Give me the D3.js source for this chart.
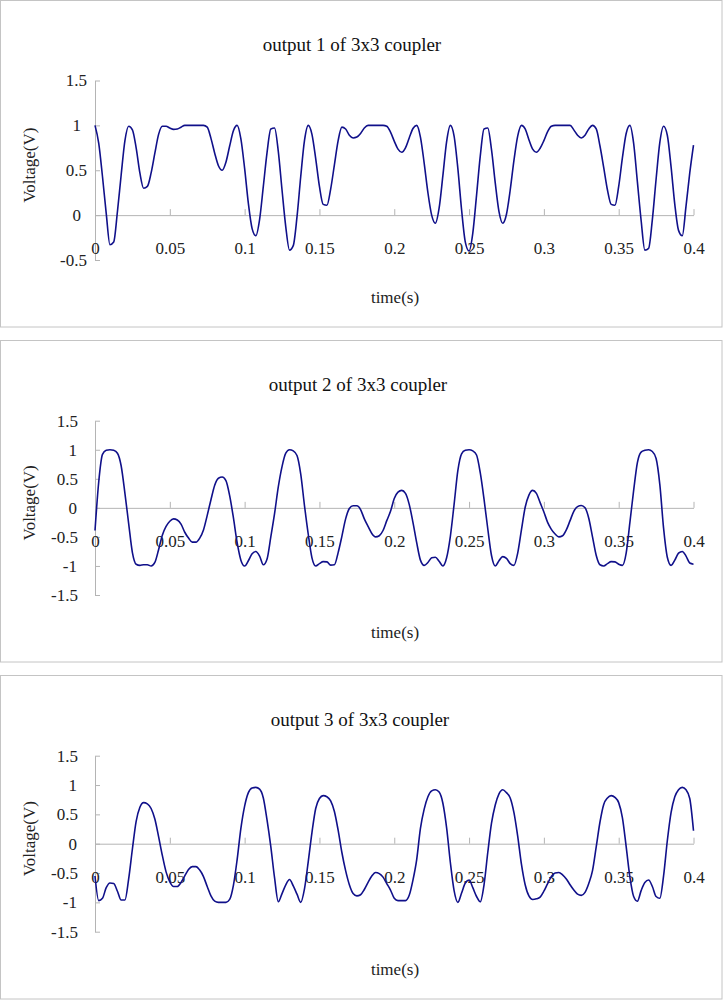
<!DOCTYPE html>
<html>
<head>
<meta charset="utf-8">
<script src="https://cdn.jsdelivr.net/npm/d3@7"></script>
<style>
    body { margin: 0; background: #fff; }
    svg { display: block; }
</style>
</head>
<body>
<svg id="chart" width="723" height="1000"></svg>
<script>
// spacing between two samples of a trace, in seconds
const SAMPLE_STEP = 0.0025;
const FONT = "'Liberation Serif', 'Times New Roman', serif";

let titles = ["output 1 of 3x3 coupler", "output 2 of 3x3 coupler", "output 3 of 3x3 coupler"];
let xTicks = [0, 0.05, 0.1, 0.15, 0.2, 0.25, 0.3, 0.35, 0.4];
let xTickLabels = ["0", "0.05", "0.1", "0.15", "0.2", "0.25", "0.3", "0.35", "0.4"];
let yTicksOutput1 = [1.5, 1, 0.5, 0, -0.5];
let yTicksOutput23 = [1.5, 1, 0.5, 0, -0.5, -1, -1.5];

// voltages, one value every SAMPLE_STEP from 0 to 0.4 s
let output1 = [
    1.00, 0.80, 0.43, 0.02, -0.33, -0.30, 0.04, 0.45, 0.83, 0.99,
    0.95, 0.75, 0.47, 0.30, 0.32, 0.47, 0.69, 0.90, 0.99, 0.99,
    0.97, 0.955, 0.96, 0.98, 1.00, 1.00, 1.00, 1.00, 1.00, 1.00,
    0.98, 0.855, 0.69, 0.55, 0.50, 0.59, 0.77, 0.94, 1.00, 0.85,
    0.52, 0.13, -0.15, -0.23, -0.05, 0.32, 0.70, 0.96, 0.97, 0.71,
    0.28, -0.13, -0.39, -0.34, -0.02, 0.43, 0.83, 1.00, 0.90, 0.63,
    0.32, 0.12, 0.11, 0.29, 0.56, 0.83, 0.98, 0.96, 0.89, 0.86,
    0.87, 0.91, 0.97, 1.00, 1.00, 1.00, 1.00, 1.00, 0.99, 0.925,
    0.825, 0.735, 0.70, 0.75, 0.86, 0.965, 1.00, 0.87, 0.58, 0.25,
    0.00, -0.09, 0.08, 0.44, 0.82, 1.00, 0.88, 0.52, 0.06, -0.30,
    -0.40, -0.20, 0.22, 0.66, 0.96, 0.97, 0.73, 0.36, 0.04, -0.09,
    0.01, 0.28, 0.61, 0.88, 1.00, 0.96, 0.84, 0.735, 0.70, 0.745,
    0.83, 0.93, 0.99, 1.00, 1.00, 1.00, 1.00, 1.00, 0.95, 0.89,
    0.86, 0.89, 0.96, 1.00, 0.96, 0.77, 0.53, 0.28, 0.12, 0.11,
    0.32, 0.64, 0.91, 1.00, 0.80, 0.37, -0.06, -0.39, -0.37, -0.05,
    0.40, 0.81, 0.99, 0.89, 0.54, 0.12, -0.17, -0.23, 0.10, 0.47,
    0.78
];
let output2 = [
    -0.39, 0.45, 0.92, 0.99, 1.00, 0.99, 0.94, 0.72, 0.25, -0.27,
    -0.77, -0.97, -0.99, -0.98, -0.98, -1.00, -0.94, -0.72, -0.47, -0.32,
    -0.23, -0.19, -0.21, -0.28, -0.42, -0.52, -0.59, -0.59, -0.52, -0.38,
    -0.13, 0.14, 0.39, 0.51, 0.53, 0.47, 0.21, -0.17, -0.60, -0.90,
    -1.00, -0.91, -0.79, -0.75, -0.83, -0.98, -0.88, -0.50, -0.10, 0.36,
    0.71, 0.94, 1.00, 0.98, 0.90, 0.58, 0.04, -0.45, -0.86, -1.00,
    -0.96, -0.925, -0.93, -0.985, -0.98, -0.77, -0.49, -0.19, -0.01, 0.035,
    0.035, -0.03, -0.19, -0.32, -0.44, -0.50, -0.48, -0.39, -0.22, -0.06,
    0.16, 0.27, 0.30, 0.25, 0.06, -0.25, -0.60, -0.90, -0.99, -0.94,
    -0.86, -0.85, -0.92, -1.00, -0.86, -0.49, 0.06, 0.64, 0.93, 0.99,
    1.00, 0.98, 0.91, 0.60, 0.15, -0.36, -0.82, -1.00, -0.91, -0.84,
    -0.87, -0.96, -0.99, -0.78, -0.38, 0.01, 0.22, 0.30, 0.25, 0.09,
    -0.07, -0.25, -0.37, -0.45, -0.50, -0.48, -0.38, -0.22, -0.06, 0.02,
    0.04, 0.00, -0.18, -0.50, -0.82, -0.98, -1.00, -0.96, -0.925, -0.93,
    -0.97, -0.99, -0.78, -0.25, 0.30, 0.78, 0.96, 0.99, 1.00, 0.97,
    0.85, 0.40, -0.35, -0.85, -0.99, -0.90, -0.78, -0.75, -0.83, -0.95,
    -0.97
];
let output3 = [
    -0.55, -0.97, -0.93, -0.75, -0.67, -0.68, -0.81, -0.96, -0.96, -0.60,
    -0.09, 0.38, 0.62, 0.70, 0.68, 0.60, 0.42, 0.12, -0.20, -0.48,
    -0.65, -0.73, -0.73, -0.66, -0.55, -0.44, -0.39, -0.39, -0.45, -0.56,
    -0.73, -0.89, -0.98, -1.00, -1.00, -1.00, -0.95, -0.71, -0.27, 0.26,
    0.64, 0.87, 0.95, 0.96, 0.93, 0.78, 0.40, -0.05, -0.58, -0.99,
    -0.85, -0.70, -0.61, -0.72, -0.86, -1.00, -0.77, -0.31, 0.19, 0.60,
    0.77, 0.82, 0.80, 0.73, 0.55, 0.23, -0.15, -0.46, -0.70, -0.85,
    -0.89, -0.87, -0.78, -0.66, -0.55, -0.49, -0.51, -0.57, -0.68, -0.79,
    -0.93, -0.97, -0.97, -0.97, -0.88, -0.62, -0.27, 0.26, 0.59, 0.80,
    0.90, 0.92, 0.88, 0.69, 0.27, -0.32, -0.80, -1.00, -0.84, -0.67,
    -0.62, -0.75, -0.90, -0.99, -0.70, -0.15, 0.35, 0.66, 0.85, 0.92,
    0.87, 0.78, 0.53, 0.13, -0.35, -0.70, -0.89, -0.95, -0.94, -0.91,
    -0.81, -0.68, -0.56, -0.50, -0.49, -0.53, -0.60, -0.70, -0.79, -0.86,
    -0.88, -0.83, -0.68, -0.46, -0.05, 0.37, 0.67, 0.78, 0.82, 0.79,
    0.70, 0.44, -0.05, -0.57, -0.90, -0.98, -0.80, -0.66, -0.62, -0.73,
    -0.90, -0.93, -0.55, 0.05, 0.53, 0.80, 0.92, 0.96, 0.92, 0.77,
    0.22
];

// one box per coupler output, stacked down the page
let panels = [
    {title: titles[0], values: output1, yTicks: yTicksOutput1, top: 0.5, bottom: 327, plotTop: 80.5, plotBottom: 260,
        titleX: 352, decDx: -8, intDx: -14},
    {title: titles[1], values: output2, yTicks: yTicksOutput23, top: 340.5, bottom: 662, plotTop: 420.7, plotBottom: 595,
        titleX: 358, decDx: -17, intDx: -18},
    {title: titles[2], values: output3, yTicks: yTicksOutput23, top: 675.5, bottom: 999, plotTop: 755.7, plotBottom: 931.7,
        titleX: 360, decDx: -17, intDx: -18}
];

let svg = d3.select("#chart");

let x = d3.scaleLinear()
    .domain([0, 0.4])
    .range([95, 693.5]);

panels.forEach(drawPanel);

function drawPanel(p) {
    let g = svg.append("g");

    g.append("rect")
        .attr("x", 0.5)
        .attr("y", p.top)
        .attr("width", 721.5)
        .attr("height", p.bottom - p.top)
        .attr("fill", "#fff")
        .attr("stroke", "#c4c4c4")
        .attr("stroke-width", 1);

    let y = d3.scaleLinear()
        .domain([d3.min(p.yTicks), d3.max(p.yTicks)])
        .range([p.plotBottom, p.plotTop]);

    // value axis: ticks point into the plot
    let yAxis = g.append("g")
        .attr("transform", "translate(" + x(0) + ",0)")
        .call(d3.axisLeft(y)
            .tickValues(p.yTicks)
            .tickSizeInner(-5)
            .tickSizeOuter(0)
            .tickPadding(8)
            .tickFormat((d) => String(d)));
    styleAxis(yAxis);
    yAxis.selectAll("text")
        .attr("x", (d) => Number.isInteger(d) ? p.intDx : p.decDx);

    // time axis sits on the zero line, labels hang well below it
    let xAxis = g.append("g")
        .attr("transform", "translate(0," + y(0) + ")")
        .call(d3.axisBottom(x)
            .tickValues(xTicks)
            .tickSizeInner(-6)
            .tickSizeOuter(0)
            .tickPadding(27)
            .tickFormat((d, i) => xTickLabels[i]));
    styleAxis(xAxis);

    g.append("text")
        .attr("x", p.titleX)
        .attr("y", p.plotTop - 30)
        .attr("text-anchor", "middle")
        .attr("font-family", FONT)
        .attr("font-size", 19)
        .attr("fill", "#111")
        .text(p.title);

    g.append("text")
        .attr("x", 395)
        .attr("y", p.plotBottom + 43)
        .attr("text-anchor", "middle")
        .attr("font-family", FONT)
        .attr("font-size", 17)
        .attr("fill", "#222")
        .text("time(s)");

    g.append("text")
        .attr("transform", "translate(29," + ((p.plotTop + p.plotBottom) / 2 - 5) + ") rotate(-90)")
        .attr("text-anchor", "middle")
        .attr("dy", "0.35em")
        .attr("font-family", FONT)
        .attr("font-size", 17)
        .attr("fill", "#222")
        .text("Voltage(V)");

    let line = d3.line()
        .x((d, i) => x(i * SAMPLE_STEP))
        .y((d) => y(d))
        .curve(d3.curveMonotoneX);

    g.append("path")
        .datum(p.values)
        .attr("fill", "none")
        .attr("stroke", "#10108a")
        .attr("stroke-width", 1.6)
        .attr("stroke-linejoin", "round")
        .attr("d", line);
}

function styleAxis(axisG) {
    axisG.attr("font-family", FONT)
        .attr("font-size", 17);
    axisG.select(".domain").attr("stroke", "#b4b4b4");
    axisG.selectAll(".tick line").attr("stroke", "#b4b4b4");
    axisG.selectAll(".tick text").attr("fill", "#222");
}
</script>
</body>
</html>
